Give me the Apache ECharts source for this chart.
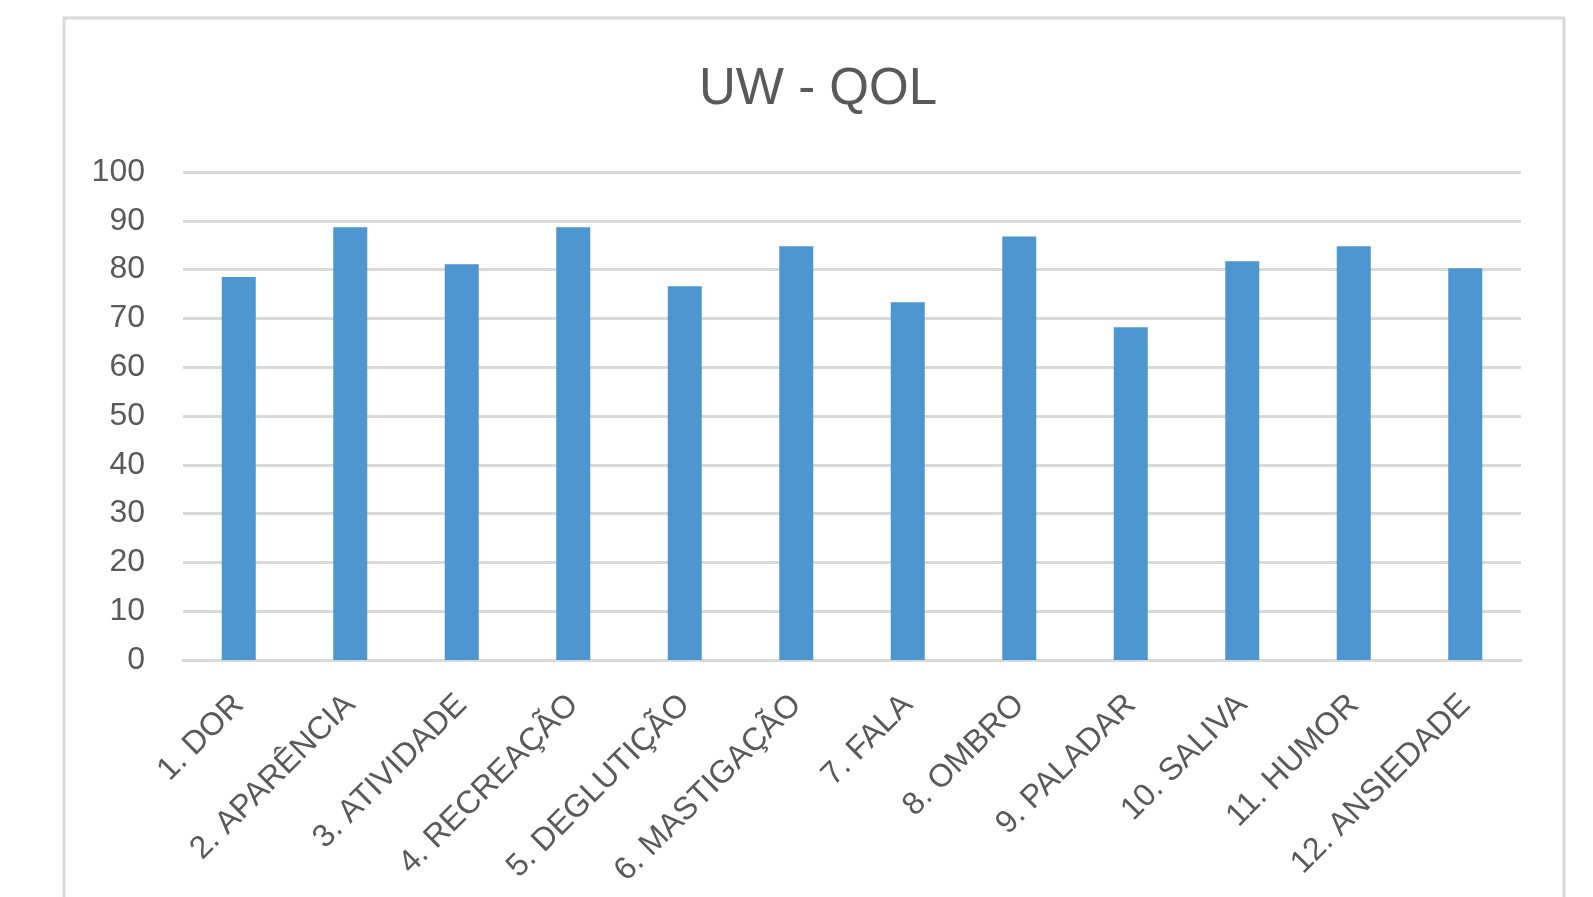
<!DOCTYPE html>
<html>
<head>
<meta charset="utf-8">
<script src="https://cdn.jsdelivr.net/npm/echarts@6/dist/echarts.min.js"></script>
<style>
  html, body { margin: 0; padding: 0; background: #fff; }
  #chart { width: 1593px; height: 897px; }
</style>
</head>
<body>
<div id="chart"></div>
<script>
// chart data
const chartTitle = 'UW - QOL';
const categories = [
  '1. DOR', '2. APARÊNCIA', '3. ATIVIDADE', '4. RECREAÇÃO',
  '5. DEGLUTIÇÃO', '6. MASTIGAÇÃO', '7. FALA', '8. OMBRO',
  '9. PALADAR', '10. SALIVA', '11. HUMOR', '12. ANSIEDADE'
];
const scores = [78.5, 88.7, 81.1, 88.7, 76.6, 84.8, 73.3, 86.8, 68.2, 81.7, 84.8, 80.3];
const yTicks = [0, 10, 20, 30, 40, 50, 60, 70, 80, 90, 100];

const textColor = '#595959';
const lineColor = '#d9d9d9';
const font = '"Liberation Sans", Arial, sans-serif';

const myChart = echarts.init(document.getElementById('chart'));

const option = {
  animation: false,
  backgroundColor: '#fff',
  // outer chart frame, like the Excel chart area border
  graphic: [{
    type: 'rect',
    shape: { x: 64, y: 18, width: 1500, height: 920 },
    style: { fill: 'none', stroke: lineColor, lineWidth: 3 },
    silent: true,
    z: -1
  }],
  title: {
    text: chartTitle,
    left: 694,
    top: 59,
    textStyle: { fontFamily: font, fontSize: 51, fontWeight: 'normal', color: textColor }
  },
  grid: { left: 183, right: 72, top: 172, bottom: 237 },
  xAxis: {
    type: 'category',
    data: categories,
    axisLine: { show: true, lineStyle: { color: lineColor, width: 3 } },
    axisTick: { show: false },
    axisLabel: {
      interval: 0,
      rotate: 45,
      margin: 40,
      fontFamily: font,
      fontSize: 32,
      color: textColor
    }
  },
  yAxis: {
    type: 'value',
    min: yTicks[0],
    max: yTicks[yTicks.length - 1],
    interval: 10,
    axisLine: { show: false },
    axisTick: { show: false },
    splitLine: { lineStyle: { color: lineColor, width: 3 } },
    axisLabel: { margin: 38, fontFamily: font, fontSize: 32, color: textColor }
  },
  series: [{
    type: 'bar',
    data: scores,
    barWidth: 34,
    itemStyle: { color: '#4e96d0' }
  }]
};

option && myChart.setOption(option);
</script>
</body>
</html>
